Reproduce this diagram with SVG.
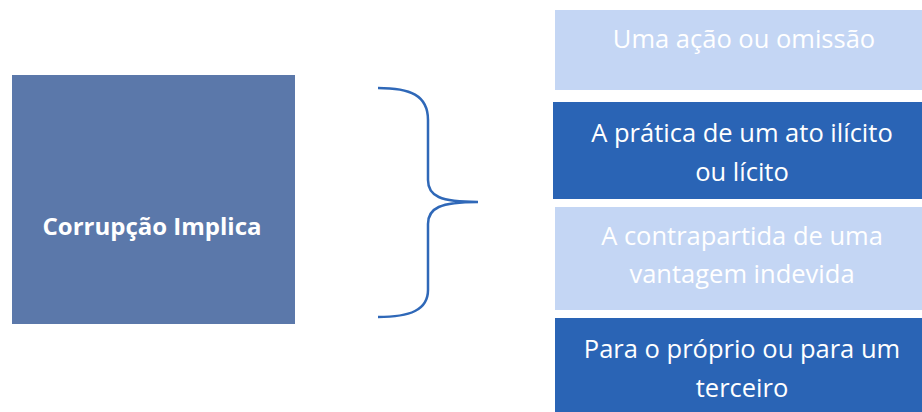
<svg xmlns="http://www.w3.org/2000/svg" width="922" height="412" viewBox="0 0 922 412">
<style>
.t{font-family:"Open Sans","Noto Sans",sans-serif;fill:#fff;text-anchor:middle}
.r{font-size:25.5px}
.dark{fill:#2a64b5}
.light{fill:#c4d6f4}
</style>
<rect width="922" height="412" fill="#fff"/>
<g id="corrupcao">
<rect x="12" y="75" width="283" height="249" fill="#5b78aa"/>
<text class="t" x="152" y="235" font-size="24" font-weight="bold">Corrupção Implica</text>
</g>
<g id="connectors">
<path d="M378,88 C410,88 428,95 428,120 L428,180 C428,196 440,202 478,202 C440,202 428,208 428,224 L428,290 C428,310 410,317 378,317" fill="none" stroke="#2f68b8" stroke-width="2.5"/>
</g>
<g id="n1">
<rect class="light" x="555" y="10" width="367" height="80"/>
<text class="t r" x="744" y="48">Uma ação ou omissão</text>
</g>
<g id="n2">
<rect class="dark" x="553" y="102" width="369" height="97"/>
<text class="t r" x="742" y="142">A prática de um ato ilícito</text>
<text class="t r" x="742" y="181">ou lícito</text>
</g>
<g id="n3">
<rect class="light" x="555" y="207" width="367" height="103"/>
<text class="t r" x="742" y="245">A contrapartida de uma</text>
<text class="t r" x="742" y="283">vantagem indevida</text>
</g>
<g id="n4">
<rect class="dark" x="555" y="318" width="367" height="94"/>
<text class="t r" x="742" y="358">Para o próprio ou para um</text>
<text class="t r" x="742" y="397">terceiro</text>
</g>
</svg>
